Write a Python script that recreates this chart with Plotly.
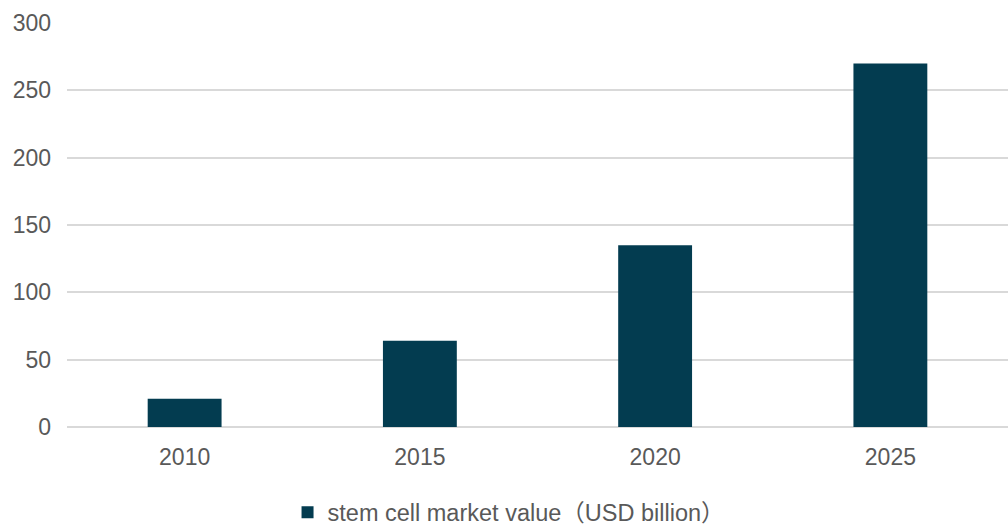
import plotly.graph_objects as go

years = ["2010", "2015", "2020", "2025"]
market_value = [21, 64, 135, 270]
series_name = "stem cell market value（USD billion）"
y_ticks = [0, 50, 100, 150, 200, 250, 300]

fig = go.Figure()
fig.add_trace(go.Bar(
    x=years, y=market_value, name=series_name,
    marker=dict(color="#033c50", line=dict(width=0)),
    showlegend=True,
))

fig.update_layout(
    width=1008, height=525,
    margin=dict(l=67, r=0, t=23, b=98, autoexpand=False),
    paper_bgcolor="white", plot_bgcolor="white",
    font=dict(family="Liberation Sans, Arial, Noto Sans CJK SC", size=23, color="#595959"),
    bargap=0.686,
    showlegend=True,
    legend=dict(orientation="h", x=0.505, xanchor="center", xref="container",
                y=0.024, yanchor="middle", yref="container",
                font=dict(size=23.5, color="#595959"), itemwidth=30),
    xaxis=dict(type="category", showgrid=False, showline=False, ticks="", ticklabelstandoff=14),
    yaxis=dict(range=[0, 300], tickvals=y_ticks, showgrid=True, gridcolor="#d9d9d9", gridwidth=1.5,
               zeroline=True, zerolinecolor="#d9d9d9", zerolinewidth=1.5,
               showline=False, ticks="", ticklabelstandoff=15),
)

fig.write_html("out.html", config={"displayModeBar": False},
               post_script="document.body.style.margin='0';document.body.style.overflow='hidden';")
